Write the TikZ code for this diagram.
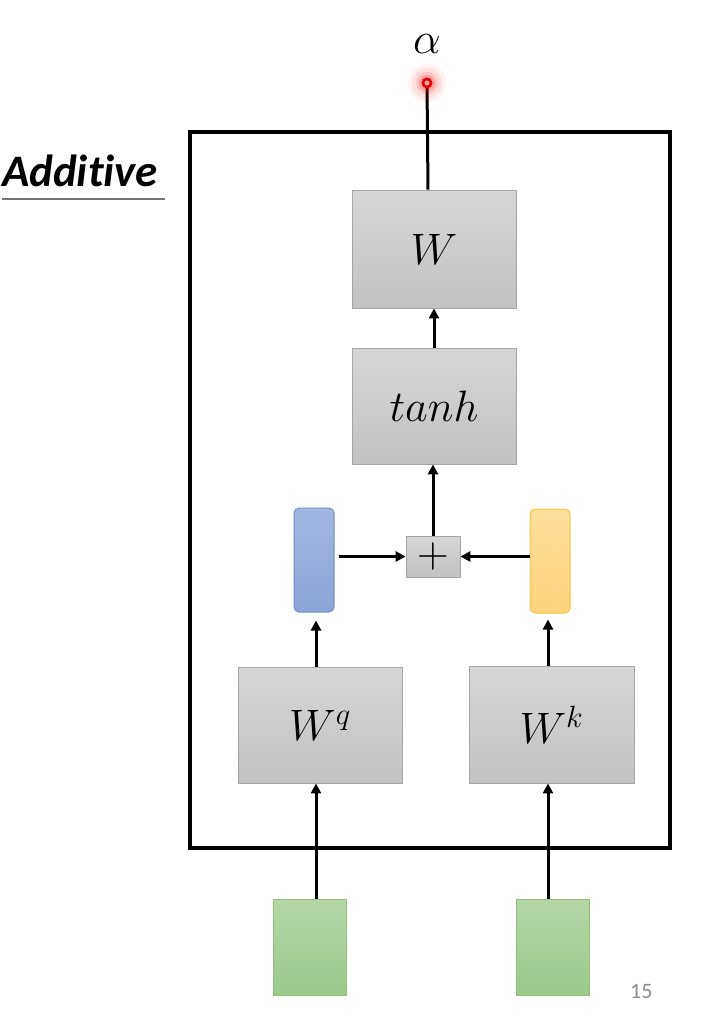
\RequirePackage{fix-cm}
\documentclass[tikz,border=0pt]{standalone}
\usepackage{fontspec}
\newfontfamily\calibri[Ligatures=NoCommon]{Carlito}
\usetikzlibrary{arrows.meta}
\definecolor{boxtop}{HTML}{D6D6D6}
\definecolor{boxbot}{HTML}{C2C2C2}
\definecolor{boxline}{HTML}{A6A6A6}
\definecolor{bluetop}{HTML}{A3B7E2}
\definecolor{bluebot}{HTML}{8CA3D8}
\definecolor{blueline}{HTML}{6F8DCB}
\definecolor{yeltop}{HTML}{FFDF9C}
\definecolor{yelbot}{HTML}{FFD37E}
\definecolor{yelline}{HTML}{F5C542}
\definecolor{grntop}{HTML}{B5D7A6}
\definecolor{grnbot}{HTML}{9CC98A}
\definecolor{grnline}{HTML}{94BF80}
\begin{document}
\begin{tikzpicture}[x=1pt,y=-1pt,
  graybox/.style={draw=boxline, line width=0.8pt, top color=boxtop, bottom color=boxbot, inner sep=0pt},
  vecq/.style={draw=blueline, line width=1pt, top color=bluetop, bottom color=bluebot, rounded corners=5pt, minimum width=40pt, minimum height=104pt, inner sep=0pt},
  veck/.style={draw=yelline, line width=1pt, top color=yeltop, bottom color=yelbot, rounded corners=5pt, minimum width=40pt, minimum height=104pt, inner sep=0pt},
  inbox/.style={draw=grnline, line width=0.8pt, top color=grntop, bottom color=grnbot, minimum width=73pt, minimum height=96pt, inner sep=0pt},
  conn/.style={line width=3pt, -{Triangle[length=10pt,width=10pt]}},
  mathtxt/.style={font=\fontsize{44}{50}\selectfont}
]
\useasboundingbox (0,0) rectangle (703,1021);

% frame
\node[draw, line width=4pt, minimum width=480pt, minimum height=716pt, inner sep=0pt] (frame) at (430,490) {};

% label
\node[anchor=base west, inner sep=0pt] (add) at (2,186) {\calibri\bfseries\itshape\fontsize{45}{50}\selectfont Additive};
\draw[black!55, line width=2.5pt] (2,199) -- (165,199);

% boxes
\node[graybox, minimum width=164pt, minimum height=118pt, mathtxt] (W) at (434,249) {$W$};
\node[graybox, minimum width=164pt, minimum height=116pt, mathtxt] (tanh) at (434,406) {$tanh$};
\node[graybox, minimum width=54pt, minimum height=41pt, font=\fontsize{44}{48}\selectfont] (plus) at (433,556.5) {$+$};
\node[vecq] (q) at (314,560) {};
\node[veck] (k) at (550,561) {};
\node[graybox, minimum width=164pt, minimum height=116pt, mathtxt] (Wq) at (320,725) {$W^q$};
\node[graybox, minimum width=165pt, minimum height=117pt, mathtxt] (Wk) at (551.5,724.5) {$W^k$};
\node[inbox] (g1) at (309.5,947) {};
\node[inbox] (g2) at (552.5,947) {};

% output
\node[inner sep=0pt, font=\fontsize{44}{48}\selectfont] (alpha) at (427,44) {$\alpha$};
\coordinate (dot) at (427,83);
\coordinate (ax) at (428,0);
\coordinate (qx) at (316,0);
\coordinate (kx) at (548,0);

% connectors
\draw[line width=3pt] (W.north -| ax) -- (dot);
\draw[conn] (tanh.north) -- (W.south);
\draw[conn] (plus.north) -- (plus.north |- tanh.south);
\draw[conn] ([xshift=4pt]q.east |- plus.west) -- (plus.west);
\draw[conn] (k.west |- plus.east) -- (plus.east);
\draw[conn, shorten >=8pt] (Wq.north -| qx) -- (q.south -| qx);
\draw[conn, shorten >=6pt] (Wk.north -| kx) -- (k.south -| kx);
\draw[conn] (g1.north -| qx) -- (Wq.south -| qx);
\draw[conn] (g2.north -| kx) -- (Wk.south -| kx);

% glowing dot
\fill[red, opacity=0.05] (dot) circle (19pt);
\fill[red, opacity=0.08] (dot) circle (15pt);
\fill[red, opacity=0.12] (dot) circle (11pt);
\fill[red, opacity=0.18] (dot) circle (8pt);
\fill[red!90!black] (dot) circle (5.5pt);
\fill[red!35] (dot) circle (2.5pt);

% page number
\node[anchor=base west, inner sep=0pt, text=black!45] (pg) at (630,998) {\calibri\fontsize{22}{24}\selectfont 15};
\end{tikzpicture}
\end{document}
